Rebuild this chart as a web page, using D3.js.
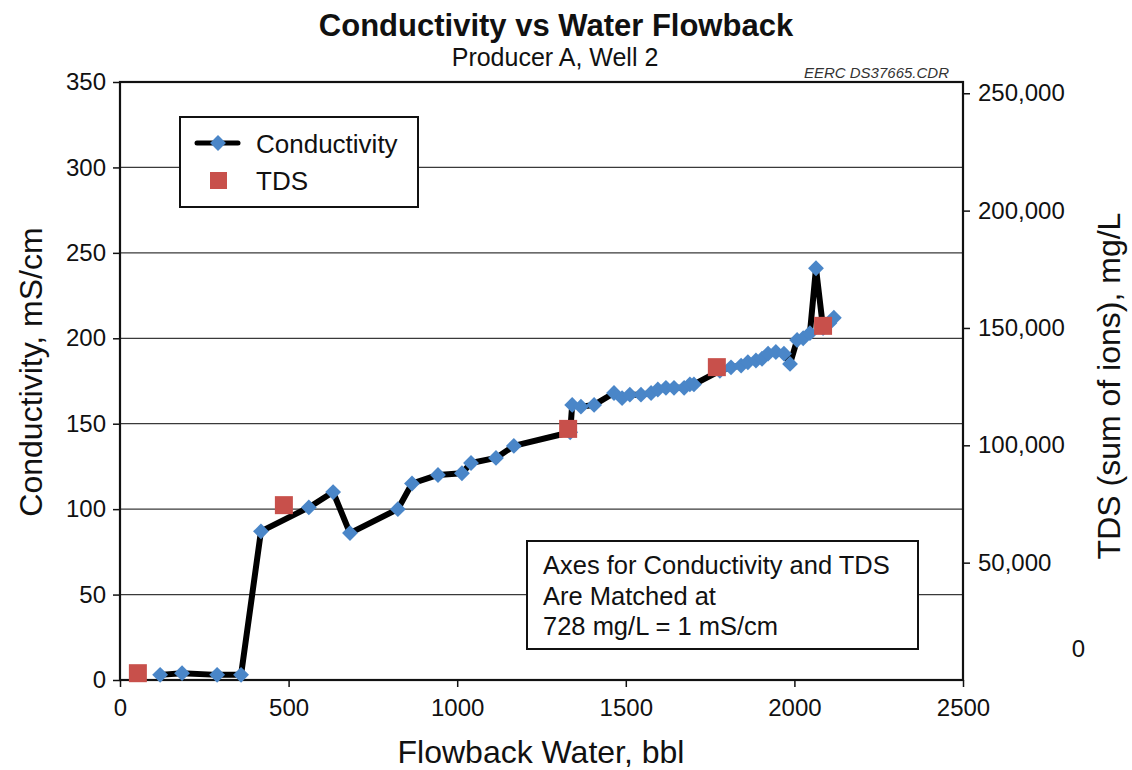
<!DOCTYPE html>
<html>
<head>
<meta charset="utf-8">
<script src="https://cdn.jsdelivr.net/npm/d3@7"></script>
<style>
  body { margin: 0; background: #fff; }
  svg { font-family: "Liberation Sans", Arial, sans-serif; }
</style>
</head>
<body>
<div class="center"></div>
<script>
// conductivity series (flowback bbl, mS/cm)
const flowback = [119, 184, 288, 359, 418, 560, 632, 682, 824, 866, 943, 1014, 1041, 1115, 1168,
  1335, 1341, 1367, 1406, 1465, 1489, 1512, 1545, 1575, 1595, 1619, 1643, 1673, 1690, 1702,
  1779, 1812, 1842, 1862, 1886, 1904, 1922, 1945, 1969, 1987, 2008, 2026, 2046, 2064, 2085, 2104, 2117];
const conductivity = [3, 4, 3, 3, 87, 101, 110, 86, 100, 115, 120, 121, 127, 130, 137,
  145, 161, 160, 161, 168, 165, 167, 167, 168, 170, 171, 171, 171, 173, 173,
  181, 183, 184, 186, 187, 188, 191, 192, 191, 185, 199, 200, 203, 241, 206, 209, 212];

// TDS samples (flowback bbl, mg/L)
const tdsFlowback = [53, 486, 1329, 1770, 2085];
const tds = [2900, 74500, 107000, 133300, 150900];

const xTicks = [0, 500, 1000, 1500, 2000, 2500];
const yTicks = [0, 50, 100, 150, 200, 250, 300, 350];
const y2Ticks = [0, 50000, 100000, 150000, 200000, 250000];
const ratio = 728; // mg/L per mS/cm

const W = 1132, H = 770;
const m = {left: 120, right: 963, top: 82, bottom: 680};

const svg = d3.select(".center")
  .append("svg")
  .attr("width", W)
  .attr("height", H);

const x = d3.scaleLinear().domain([0, 2500]).range([m.left, m.right]);
const y = d3.scaleLinear().domain([0, 350]).range([m.bottom, m.top]);
const y2 = d3.scaleLinear().domain([0, 350 * ratio]).range([m.bottom, m.top]);

// gridlines
svg.append("g")
  .selectAll("line")
  .data(yTicks.slice(1, -1))
  .enter()
  .append("line")
  .attr("x1", m.left).attr("x2", m.right)
  .attr("y1", d => y(d)).attr("y2", d => y(d))
  .attr("stroke", "#3a3a3a")
  .attr("stroke-width", 1.3);

// axes
const styleAxis = g => {
  g.select(".domain").remove();
  g.selectAll(".tick line").attr("stroke", "#111").attr("stroke-width", 1.5);
  g.selectAll(".tick text").attr("font-size", 24).attr("fill", "#111")
    .attr("font-family", "Liberation Sans, Arial, sans-serif");
};

svg.append("g")
  .attr("transform", `translate(0,${m.bottom})`)
  .call(d3.axisBottom(x).tickValues(xTicks).tickFormat(d3.format("d")).tickSize(7).tickPadding(12))
  .call(styleAxis);

svg.append("g")
  .attr("transform", `translate(${m.left},0)`)
  .call(d3.axisLeft(y).tickValues(yTicks).tickSize(7).tickPadding(7))
  .call(styleAxis);

const right = svg.append("g")
  .attr("transform", `translate(${m.right},0)`)
  .call(d3.axisRight(y2).tickValues(y2Ticks).tickFormat(d3.format(",")).tickSize(7).tickPadding(8))
  .call(styleAxis);
right.selectAll(".tick")
  .filter(d => d === 0)
  .select("text")
  .attr("x", 122)
  .attr("text-anchor", "end")
  .attr("dy", "-1.0em");
right.selectAll(".tick").filter(d => d === 0).select("line").remove();

// frame
svg.append("rect")
  .attr("x", m.left).attr("y", m.top)
  .attr("width", m.right - m.left).attr("height", m.bottom - m.top)
  .attr("fill", "none")
  .attr("stroke", "#111")
  .attr("stroke-width", 2.2);

// conductivity line
const pts = flowback.map((d, i) => [d, conductivity[i]]);
svg.append("path")
  .datum(pts)
  .attr("fill", "none")
  .attr("stroke", "#000")
  .attr("stroke-width", 6)
  .attr("stroke-linejoin", "round")
  .attr("d", d3.line().x(d => x(d[0])).y(d => y(d[1])));

const diamond = d3.symbol().type(d3.symbolDiamond2).size(160);
svg.append("g")
  .selectAll("path")
  .data(pts)
  .enter()
  .append("path")
  .attr("transform", d => `translate(${x(d[0])},${y(d[1])})`)
  .attr("d", diamond)
  .attr("fill", "#4a86c8");

// TDS squares
svg.append("g")
  .selectAll("rect")
  .data(tdsFlowback.map((d, i) => [d, tds[i]]))
  .enter()
  .append("rect")
  .attr("x", d => x(d[0]) - 9)
  .attr("y", d => y2(d[1]) - 9)
  .attr("width", 18).attr("height", 18)
  .attr("fill", "#c8504b");

// legend
const lg = svg.append("g");
lg.append("rect")
  .attr("x", 180).attr("y", 117).attr("width", 238).attr("height", 90)
  .attr("fill", "#fff").attr("stroke", "#111").attr("stroke-width", 2);
lg.append("line")
  .attr("x1", 197).attr("x2", 238).attr("y1", 143).attr("y2", 143)
  .attr("stroke", "#000").attr("stroke-width", 5).attr("stroke-linecap", "round");
lg.append("path").attr("transform", "translate(218,143)").attr("d", diamond).attr("fill", "#4a86c8");
lg.append("rect").attr("x", 210).attr("y", 172).attr("width", 17).attr("height", 17).attr("fill", "#c8504b");
lg.append("text").attr("x", 256).attr("y", 153).attr("font-size", 26).attr("fill", "#111").text("Conductivity");
lg.append("text").attr("x", 256).attr("y", 190).attr("font-size", 26).attr("fill", "#111").text("TDS");

// note box
const nb = svg.append("g");
nb.append("rect")
  .attr("x", 527).attr("y", 541).attr("width", 391).attr("height", 108)
  .attr("fill", "#fff").attr("stroke", "#111").attr("stroke-width", 2);
["Axes for Conductivity and TDS", "Are Matched at", "728 mg/L = 1 mS/cm"].forEach((t, i) => {
  nb.append("text").attr("x", 543).attr("y", 574 + i * 30.5).attr("font-size", 25.5).attr("fill", "#111").text(t);
});

// titles
svg.append("text")
  .attr("x", 556).attr("y", 36)
  .attr("text-anchor", "middle")
  .attr("font-size", 31).attr("font-weight", "bold").attr("fill", "#111")
  .text("Conductivity vs Water Flowback");
svg.append("text")
  .attr("x", 555).attr("y", 66)
  .attr("text-anchor", "middle")
  .attr("font-size", 25).attr("fill", "#111")
  .text("Producer A, Well 2");
svg.append("text")
  .attr("x", 949).attr("y", 78)
  .attr("text-anchor", "end")
  .attr("font-size", 15).attr("font-style", "italic").attr("fill", "#333")
  .text("EERC DS37665.CDR");

svg.append("text")
  .attr("x", 541).attr("y", 763)
  .attr("text-anchor", "middle")
  .attr("font-size", 32).attr("fill", "#111")
  .text("Flowback Water, bbl");
svg.append("text")
  .attr("transform", "translate(42,372) rotate(-90)")
  .attr("text-anchor", "middle")
  .attr("font-size", 32).attr("fill", "#111")
  .text("Conductivity, mS/cm");
svg.append("text")
  .attr("transform", "translate(1120,386) rotate(-90)")
  .attr("text-anchor", "middle")
  .attr("font-size", 32).attr("fill", "#111")
  .text("TDS (sum of ions), mg/L");
</script>
</body>
</html>
